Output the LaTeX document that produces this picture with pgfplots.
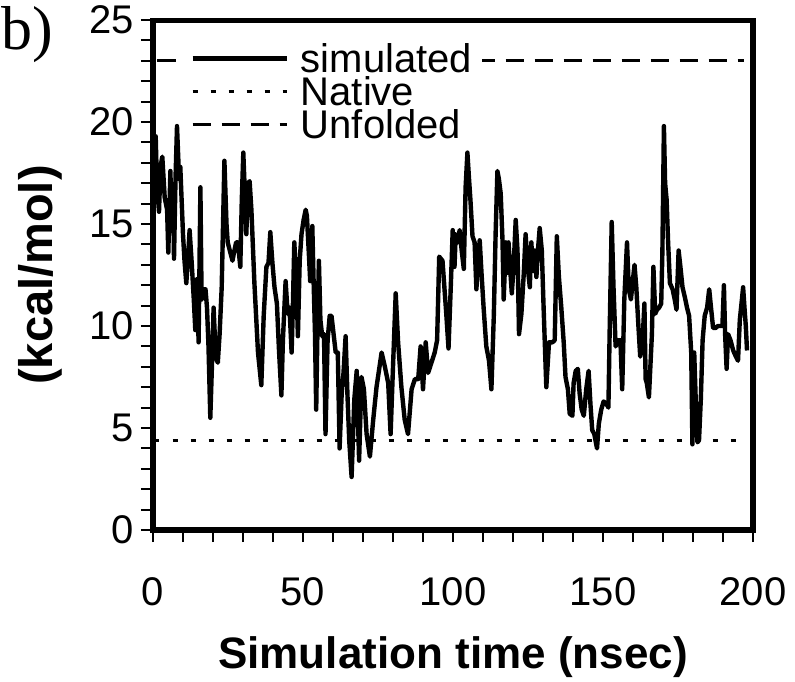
\documentclass[border=0pt]{standalone}
\usepackage{fontspec}
\setmainfont{Liberation Sans}
\newfontfamily\seriffont{Liberation Serif}
\usepackage{pgfplots}
\pgfplotsset{compat=1.18}
\begin{document}
\begin{tikzpicture}
\useasboundingbox (-76.5pt,-75.5pt) rectangle (321pt,265pt);
\begin{axis}[
  scale only axis, width=300pt, height=255pt,
  xmin=0, xmax=200, ymin=0, ymax=25,
  axis line style={line width=2.5pt},
  tick pos=left, tick align=outside,
  xtick={0,50,100,150,200}, minor x tick num=4,
  ytick={0,5,10,15,20,25}, minor y tick num=4,
  major tick length=6pt, minor tick length=6pt,
  tick style={line width=1pt, black},
  /pgf/number format/assume math mode=true,
  ticklabel style={font=\fontsize{20}{24}\selectfont},
  xticklabel style={yshift=-14pt},
  xlabel={Simulation time (nsec)},
  ylabel={(kcal/mol)},
  xlabel style={font=\fontsize{22}{26}\selectfont\bfseries, at={(axis description cs:0.5,-0.2706)}, anchor=base},
  ylabel style={font=\fontsize{23.5}{26}\selectfont\bfseries, at={(axis description cs:-0.1683,0.5)}, anchor=base},
  legend style={at={(axis description cs:0.045,0.961)}, anchor=north west, yshift=0.5pt,
    fill=white, draw=none, inner xsep=5pt, inner ysep=2pt,
    font=\fontsize{20}{20}\selectfont, row sep=2pt, column sep=6pt,
    nodes={inner sep=0pt, text height=14.5pt, text depth=0pt}},
  legend cell align=left,
  legend image code/.code={\draw[#1] (0pt,-0.3pt) -- (47pt,-0.3pt);},
]
\addplot[black, line width=2.2pt, line join=round] coordinates {
(0,17.6) (0.9,19.3) (1.3,17.0) (2.0,15.6) (2.5,17.8) (3.1,18.3) (3.9,16.3) (4.7,15.7) (5.1,13.6) (5.8,17.6) (6.2,14.9) (6.7,16.7) (7.0,13.3) (7.5,17.2) (8.0,19.8) (8.7,17.2) (9.1,17.8) (10.0,14.5) (10.5,13.2) (11.1,12.1) (11.7,13.4) (12.2,14.7) (12.9,13.1) (13.6,11.3) (14.1,9.8) (14.7,12.3) (15.2,9.2) (15.8,16.8) (16.2,11.3) (16.7,11.8) (17.5,11.8) (18.0,10.9) (18.5,9.0) (19.1,5.5) (19.7,8.3) (20.2,10.9) (20.9,8.5) (21.6,8.2) (22.2,9.6) (22.9,11.9) (23.8,18.1) (24.5,15.0) (24.9,14.1) (25.6,13.7) (26.5,13.2) (27.0,13.6) (27.7,14.1) (28.3,14.1) (29.1,12.9) (29.6,16.2) (30.1,18.5) (30.7,16.2) (31.1,14.5) (31.7,17.0) (32.2,17.1) (32.8,15.7)
(33.8,12.1) (35.0,8.7) (36.1,7.1) (36.9,10.5) (37.8,12.9) (38.5,13.1) (39.1,14.6) (39.8,13.1) (40.5,11.9) (41.3,11.1) (42.0,8.8) (42.8,6.6) (43.3,9.3) (44.2,12.2) (44.9,10.6) (45.5,10.9) (46.2,8.7) (46.6,10.8) (47.1,14.1) (47.8,12.1) (48.3,9.5) (48.9,13.2) (49.5,14.5) (50.2,15.2) (50.9,15.7) (51.3,15.4) (52.0,13.4) (52.4,12.2) (53.1,14.9) (53.5,12.4) (54.0,9.6) (54.4,5.9) (54.9,10.6) (55.3,13.2) (55.8,10.3) (56.4,9.5) (57.0,9.6) (57.5,4.7) (58.2,9.3) (58.9,10.5) (59.5,10.5) (60.2,9.6) (60.9,8.7) (61.6,8.7) (62.2,4.0) (62.9,6.7) (63.5,7.7) (64.2,9.5) (64.8,6.7)
(65.4,4.4) (66.2,2.6) (67.1,6.4) (67.9,7.8) (68.7,3.4) (69.5,7.5) (70.3,6.9) (71.2,4.7) (72.3,3.6) (73.4,5.4) (74.5,7.0) (76.2,8.7) (77.3,8.0) (78.4,7.2) (79.2,4.7) (80.0,8.0) (80.9,11.6) (81.7,9.2) (82.8,7.0) (83.9,5.4) (85.0,4.7) (86.2,6.9) (87.3,7.4) (88.4,7.4) (89.2,9.0) (90.0,6.9) (90.9,9.2) (91.7,7.7) (92.8,8.2) (93.9,8.7) (94.7,9.3) (95.4,13.4) (96.5,13.2) (97.8,10.5) (98.5,8.9)
(99.3,12.1) (99.9,14.7) (100.5,12.9) (100.9,14.5) (101.6,14.1) (102.2,14.7) (102.9,13.7) (103.6,12.8) (104.2,16.8) (104.8,18.5) (105.3,17.3) (105.8,16.2) (106.5,14.4) (107.2,14.1) (107.8,11.8) (108.3,13.2) (108.9,14.2) (109.5,12.6) (110.2,10.9) (111.1,9.0) (112.0,8.3) (112.8,6.9) (113.6,10.5) (114.2,14.5) (114.8,17.6) (115.3,17.2) (115.9,16.5) (116.5,14.2) (116.9,11.3) (117.6,14.1) (118.0,12.6) (118.5,14.1) (119.1,12.7) (119.6,11.6) (120.2,12.9) (120.9,15.2) (121.5,13.7) (122.0,9.6) (122.8,10.6) (123.6,12.6) (124.2,14.5) (124.9,12.9) (125.6,11.9) (126.1,14.1) (126.7,12.7) (127.2,13.7) (127.8,12.4) (128.3,13.7) (128.9,14.8) (129.6,13.7) (130.2,10.9) (131.1,7.0) (132.0,9.2)
(133.1,9.2) (133.9,9.3) (134.6,14.4) (135.3,12.4) (136.1,10.9) (136.9,9.2) (137.5,7.5) (138.3,6.9) (138.9,5.7) (139.8,5.6) (140.2,7.2) (140.9,7.8) (141.6,7.9) (142.2,6.7) (142.9,5.9) (143.6,5.6) (144.4,6.9) (145.2,7.8) (145.8,6.2) (146.4,4.9) (147.1,4.7) (148.0,4.0) (148.6,5.2) (149.4,5.9) (150.2,6.3) (151.1,6.2) (151.8,6.0) (152.2,9.6) (152.9,15.1) (153.5,11.9) (154.2,9.0) (155.0,9.3) (155.8,9.3) (156.4,6.9) (157.1,11.3) (158.0,14.1) (158.6,11.8) (159.3,11.3) (160.0,12.3) (160.5,13.0) (161.1,11.9) (161.8,10.0) (162.4,8.5) (163.1,9.0) (163.8,11.1) (164.2,7.4) (164.6,7.2) (165.3,6.5)
(166.3,9.6) (166.8,12.9) (167.4,10.6) (168.0,10.8) (168.7,10.9) (169.4,11.1) (169.8,13.7) (170.3,19.8) (170.7,17.0) (171.2,16.2) (171.7,14.1) (172.3,12.1) (173.2,11.8) (173.9,11.3) (174.5,10.8) (175.2,13.7) (175.8,12.9) (176.5,11.9) (177.3,11.4) (178.0,10.9) (178.7,10.5) (179.4,8.7) (179.8,4.2) (180.4,8.7) (180.9,6.4) (181.5,4.3) (182.0,4.4) (182.6,6.4) (183.2,9.3) (183.9,10.5) (184.7,10.9) (185.4,11.8) (186.0,10.9) (186.7,9.9) (187.5,9.9) (188.3,10.0) (189.2,10.0) (189.8,10.0) (190.3,12.0) (190.7,9.6) (191.2,7.9) (191.7,9.6) (192.5,9.3) (193.4,8.8) (194.3,8.5) (195.0,8.3) (195.6,10.3) (196.3,11.3) (196.7,11.9) (197.2,10.8) (197.6,10.0) (198.0,8.8)
};
\addlegendentry{simulated}
\addplot[black, line width=1.6pt, dash pattern=on 2.5pt off 6.5pt] coordinates {(0.5,4.4) (197.5,4.4)};
\addlegendentry{Native}
\addplot[black, line width=1.5pt, dash pattern=on 9pt off 5.5pt] coordinates {(1.5,23.0) (197,23.0)};
\addlegendentry{Unfolded}
\draw[line width=2.6pt, line cap=rect] (rel axis cs:0,0) rectangle (rel axis cs:1,1);
\end{axis}
\node[anchor=base west, inner sep=0pt, font=\seriffont\fontsize{31}{36}\selectfont] at (-76pt,240pt) {b)};
\end{tikzpicture}
\end{document}
